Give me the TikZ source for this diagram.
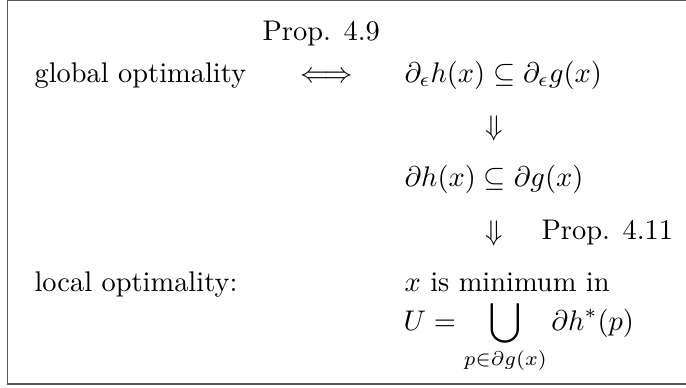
\documentclass[tikz,border=0pt]{standalone}
\usepackage{amsmath,amssymb}
\begin{document}
\begin{tikzpicture}[x=0.352pt,y=-0.352pt,
  txt/.style={anchor=base west,inner sep=0pt},
  arr/.style={anchor=center,inner sep=0pt},
  frame/.style={draw=black!65,line width=0.55pt}]
\useasboundingbox (0,0) rectangle (686,387);
\clip (0,0) rectangle (686,387);
\draw[frame] (7.5,0.3) rectangle (720,384);
\node[txt] (p49) at (262,40) {Prop. 4.9};
\node[txt] (glob) at (34,82) {global optimality};
\node[anchor=base,inner sep=0pt] (iff) at (327,82) {$\Longleftrightarrow$};
\node[txt] (eps) at (404,82) {$\partial_\epsilon h(x) \subseteq \partial_\epsilon g(x)$};
\node[arr] (d1) at (494,128) {$\Downarrow$};
\node[txt] (sub) at (404,186) {$\partial h(x) \subseteq \partial g(x)$};
\node[arr] (d2) at (494,233) {$\Downarrow$};
\node[txt] (p411) at (541,239) {Prop. 4.11};
\node[txt] (loc) at (34,291) {local optimality:};
\node[txt] (xmin) at (404,291) {$x$ is minimum in};
\node[txt] (U) at (403,330) {$\displaystyle U = \bigcup_{p\in\partial g(x)} \partial h^*(p)$};
\end{tikzpicture}
\end{document}
